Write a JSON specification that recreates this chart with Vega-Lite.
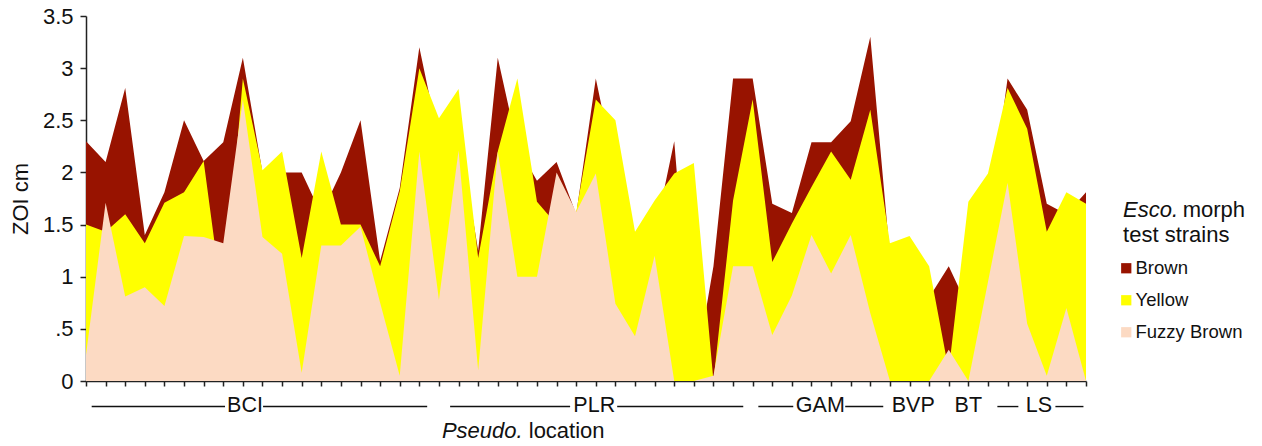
{
  "$schema": "https://vega.github.io/schema/vega-lite/v6.json",
  "width": 1000,
  "height": 365,
  "autosize": {"type": "none"},
  "padding": {"left": 86, "top": 16, "right": 176, "bottom": 65},
  "background": "white",
  "config": {
    "font": "Liberation Sans",
    "view": {"stroke": null},
    "axis": {"grid": false, "domainColor": "#222", "tickColor": "#222", "domainWidth": 1.5, "tickWidth": 1.5, "labelColor": "#111", "titleColor": "#111", "labelFont": "Liberation Sans", "titleFont": "Liberation Sans", "titleFontWeight": "normal", "zindex": 1},
    "text": {"font": "Liberation Sans", "color": "#111"}
  },
  "datasets": {
    "zoi": [
      {"i":0,"brown":2.3,"yellow":1.5,"fuzzy":0.25},
      {"i":1,"brown":2.1,"yellow":1.43,"fuzzy":1.71},
      {"i":2,"brown":2.81,"yellow":1.6,"fuzzy":0.81},
      {"i":3,"brown":1.4,"yellow":1.32,"fuzzy":0.9},
      {"i":4,"brown":1.81,"yellow":1.71,"fuzzy":0.72},
      {"i":5,"brown":2.5,"yellow":1.81,"fuzzy":1.39},
      {"i":6,"brown":2.11,"yellow":2.11,"fuzzy":1.38},
      {"i":7,"brown":2.29,"yellow":0.7,"fuzzy":1.32},
      {"i":8,"brown":3.1,"yellow":2.9,"fuzzy":2.7},
      {"i":9,"brown":2.0,"yellow":2.02,"fuzzy":1.38},
      {"i":10,"brown":2.0,"yellow":2.2,"fuzzy":1.22},
      {"i":11,"brown":2.0,"yellow":1.18,"fuzzy":0.08},
      {"i":12,"brown":1.6,"yellow":2.2,"fuzzy":1.3},
      {"i":13,"brown":2.0,"yellow":1.5,"fuzzy":1.3},
      {"i":14,"brown":2.5,"yellow":1.5,"fuzzy":1.48},
      {"i":15,"brown":1.15,"yellow":1.1,"fuzzy":0.75},
      {"i":16,"brown":1.85,"yellow":1.82,"fuzzy":0.05},
      {"i":17,"brown":3.2,"yellow":3.0,"fuzzy":2.2},
      {"i":18,"brown":2.3,"yellow":2.52,"fuzzy":0.78},
      {"i":19,"brown":2.4,"yellow":2.8,"fuzzy":2.21},
      {"i":20,"brown":1.25,"yellow":1.18,"fuzzy":0.1},
      {"i":21,"brown":3.1,"yellow":2.2,"fuzzy":2.2},
      {"i":22,"brown":2.25,"yellow":2.9,"fuzzy":1.0},
      {"i":23,"brown":1.92,"yellow":1.72,"fuzzy":1.0},
      {"i":24,"brown":2.1,"yellow":1.5,"fuzzy":2.0},
      {"i":25,"brown":1.6,"yellow":1.62,"fuzzy":1.62},
      {"i":26,"brown":2.9,"yellow":2.7,"fuzzy":1.99},
      {"i":27,"brown":2.0,"yellow":2.5,"fuzzy":0.74},
      {"i":28,"brown":1.3,"yellow":1.43,"fuzzy":0.43},
      {"i":29,"brown":1.4,"yellow":1.73,"fuzzy":1.2},
      {"i":30,"brown":2.3,"yellow":1.99,"fuzzy":0},
      {"i":31,"brown":0,"yellow":2.09,"fuzzy":0},
      {"i":32,"brown":1.1,"yellow":0,"fuzzy":0.05},
      {"i":33,"brown":2.9,"yellow":1.73,"fuzzy":1.1},
      {"i":34,"brown":2.9,"yellow":2.7,"fuzzy":1.1},
      {"i":35,"brown":1.7,"yellow":1.14,"fuzzy":0.44},
      {"i":36,"brown":1.61,"yellow":1.51,"fuzzy":0.82},
      {"i":37,"brown":2.29,"yellow":1.86,"fuzzy":1.4},
      {"i":38,"brown":2.29,"yellow":2.2,"fuzzy":1.03},
      {"i":39,"brown":2.49,"yellow":1.93,"fuzzy":1.4},
      {"i":40,"brown":3.3,"yellow":2.6,"fuzzy":0.65},
      {"i":41,"brown":1.2,"yellow":1.32,"fuzzy":0},
      {"i":42,"brown":1.2,"yellow":1.39,"fuzzy":0},
      {"i":43,"brown":0.8,"yellow":1.1,"fuzzy":0},
      {"i":44,"brown":1.1,"yellow":0.1,"fuzzy":0.3},
      {"i":45,"brown":0.7,"yellow":1.72,"fuzzy":0},
      {"i":46,"brown":1.5,"yellow":1.99,"fuzzy":0.95},
      {"i":47,"brown":2.9,"yellow":2.81,"fuzzy":1.9},
      {"i":48,"brown":2.6,"yellow":2.42,"fuzzy":0.55},
      {"i":49,"brown":1.7,"yellow":1.43,"fuzzy":0.05},
      {"i":50,"brown":1.6,"yellow":1.81,"fuzzy":0.7},
      {"i":51,"brown":1.81,"yellow":1.7,"fuzzy":0}
    ],
    "groups": [
      {"label":"BCI","mid":8.11},
      {"label":"PLR","mid":25.92},
      {"label":"GAM","mid":37.45},
      {"label":"BVP","mid":42.19},
      {"label":"BT","mid":45.0},
      {"label":"LS","mid":48.6}
    ],
    "segments": [
      {"a":0.29,"b":7.09},
      {"a":9.03,"b":17.4},
      {"a":18.57,"b":24.69},
      {"a":27.09,"b":33.52},
      {"a":34.29,"b":36.07},
      {"a":38.72,"b":40.66},
      {"a":46.48,"b":47.55},
      {"a":49.44,"b":50.87}
    ]
  },
  "layer": [
    {
      "data": {"name": "zoi"},
      "mark": {"type": "area", "interpolate": "linear", "opacity": 1, "fillOpacity": 1, "strokeWidth": 0},
      "encoding": {
        "x": {"field": "i", "type": "quantitative", "scale": {"domain": [0, 51], "nice": false, "zero": false},
              "axis": {"title": null, "labels": false, "tickCount": 52, "tickSize": 5, "domain": true}},
        "y": {"field": "brown", "type": "quantitative", "title": "ZOI cm", "scale": {"domain": [0, 3.5], "nice": false},
              "axis": {"values": [0, 0.5, 1, 1.5, 2, 2.5, 3, 3.5], "labelExpr": "datum.value == 0.5 ? '.5' : '' + datum.value", "tickSize": 6, "labelPadding": 7, "labelFontSize": 22, "titleFontSize": 22, "titlePadding": 10}},
        "color": {"datum": "Brown", "type": "nominal",
                  "scale": {"domain": ["Brown", "Yellow", "Fuzzy Brown"], "range": ["#981300", "#ffff00", "#fcdac3"]},
                  "legend": {"title": null, "orient": "none", "legendX": 1031, "legendY": 243, "symbolType": "square", "symbolSize": 105, "symbolStrokeWidth": 0, "labelFontSize": 18.5, "labelFont": "Liberation Sans", "labelColor": "#111", "rowPadding": 13, "labelOffset": 0}}
      }
    },
    {
      "data": {"name": "zoi"},
      "mark": {"type": "area", "interpolate": "linear", "opacity": 1, "fillOpacity": 1, "strokeWidth": 0},
      "encoding": {
        "x": {"field": "i", "type": "quantitative"},
        "y": {"field": "yellow", "type": "quantitative", "title": "ZOI cm"},
        "color": {"datum": "Yellow", "type": "nominal"}
      }
    },
    {
      "data": {"name": "zoi"},
      "mark": {"type": "area", "interpolate": "linear", "opacity": 1, "fillOpacity": 1, "strokeWidth": 0},
      "encoding": {
        "x": {"field": "i", "type": "quantitative"},
        "y": {"field": "fuzzy", "type": "quantitative", "title": "ZOI cm"},
        "color": {"datum": "Fuzzy Brown", "type": "nominal"}
      }
    },
    {
      "data": {"name": "segments"},
      "mark": {"type": "rule", "clip": false, "color": "#111", "strokeWidth": 1.4},
      "encoding": {
        "x": {"field": "a", "type": "quantitative"},
        "x2": {"field": "b"},
        "y": {"datum": -0.245, "type": "quantitative"}
      }
    },
    {
      "data": {"name": "groups"},
      "mark": {"type": "text", "clip": false, "fontSize": 21.5, "align": "center", "baseline": "alphabetic"},
      "encoding": {
        "x": {"field": "mid", "type": "quantitative"},
        "y": {"datum": -0.297, "type": "quantitative"},
        "text": {"field": "label"}
      }
    },
    {
      "data": {"values": [{"t": "Pseudo."}]},
      "mark": {"type": "text", "clip": false, "fontSize": 22, "fontStyle": "italic", "align": "right", "baseline": "alphabetic"},
      "encoding": {
        "x": {"datum": 22.27, "type": "quantitative"},
        "y": {"datum": -0.547, "type": "quantitative"},
        "text": {"field": "t"}
      }
    },
    {
      "data": {"values": [{"t": "location"}]},
      "mark": {"type": "text", "clip": false, "fontSize": 22, "align": "left", "baseline": "alphabetic"},
      "encoding": {
        "x": {"datum": 22.58, "type": "quantitative"},
        "y": {"datum": -0.547, "type": "quantitative"},
        "text": {"field": "t"}
      }
    },
    {
      "data": {"values": [{"t": "Esco."}]},
      "mark": {"type": "text", "clip": false, "fontSize": 22, "fontStyle": "italic", "align": "left", "baseline": "alphabetic"},
      "encoding": {
        "x": {"datum": 52.89, "type": "quantitative"},
        "y": {"datum": 1.572, "type": "quantitative"},
        "text": {"field": "t"}
      }
    },
    {
      "data": {"values": [{"t": "morph"}]},
      "mark": {"type": "text", "clip": false, "fontSize": 22, "align": "right", "baseline": "alphabetic"},
      "encoding": {
        "x": {"datum": 59.11, "type": "quantitative"},
        "y": {"datum": 1.572, "type": "quantitative"},
        "text": {"field": "t"}
      }
    },
    {
      "data": {"values": [{"t": "test strains"}]},
      "mark": {"type": "text", "clip": false, "fontSize": 22, "align": "left", "baseline": "alphabetic"},
      "encoding": {
        "x": {"datum": 52.89, "type": "quantitative"},
        "y": {"datum": 1.333, "type": "quantitative"},
        "text": {"field": "t"}
      }
    }
  ]
}
